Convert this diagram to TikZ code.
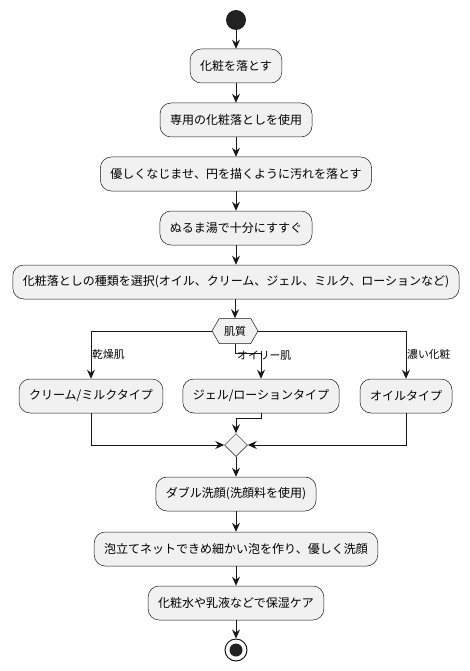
\documentclass[tikz,border=0pt]{standalone}
\usepackage{fontspec}
\setmainfont{Noto Sans CJK JP}
\usetikzlibrary{arrows.meta,shapes.geometric,shapes.symbols}

\definecolor{boxfill}{HTML}{F1F1F1}
\definecolor{boxline}{HTML}{181818}
\definecolor{dot}{HTML}{222222}

\begin{document}
\begin{tikzpicture}[x=1pt,y=-1pt,
  act/.style={draw=boxline,fill=boxfill,line width=.5pt,rounded corners=11pt,
    minimum height=34pt,inner xsep=10pt,font=\fontsize{12}{14}\selectfont},
  arr/.style={draw=boxline,line width=1pt,-{Stealth[length=9pt,width=8pt,inset=3pt]}},
  lab/.style={font=\fontsize{10.8}{12}\selectfont,inner sep=0pt}]

\useasboundingbox (0,0) rectangle (470,671);

\node [circle,fill=dot,minimum size=20pt,inner sep=0pt] (start) at (236,20) {};

\node [act] (a1) at (236,66) {化粧を落とす};
\node [act] (a2) at (236,120) {専用の化粧落としを使用};
\node [act] (a3) at (236,174) {優しくなじませ、円を描くように汚れを落とす};
\node [act] (a4) at (236,228) {ぬるま湯で十分にすすぐ};
\node [act] (a5) at (236,282) {化粧落としの種類を選択(オイル、クリーム、ジェル、ミルク、ローションなど)};

% branch on skin type
\node [signal,signal to=west and east,signal pointer angle=120,draw=boxline,fill=boxfill,
  line width=.5pt,minimum width=46pt,minimum height=25pt,inner sep=0pt,
  font=\fontsize{11}{12}\selectfont] (skin) at (235,331) {肌質};

\node [act] (dry) at (91,396) {クリーム/ミルクタイプ};
\node [act] (gel) at (261,396) {ジェル/ローションタイプ};
\node [act] (oil) at (406,396) {オイルタイプ};

\node [diamond,aspect=1,draw=boxline,fill=boxfill,line width=.5pt,
  minimum size=23pt,inner sep=0pt] (merge) at (236,445) {};

\node [act] (b1) at (236,494) {ダブル洗顔(洗顔料を使用)};
\node [act] (b2) at (236,549) {泡立てネットできめ細かい泡を作り、優しく洗顔};
\node [act] (b3) at (236,603) {化粧水や乳液などで保湿ケア};

\node [circle,draw=boxline,fill=white,line width=1pt,minimum size=22pt,inner sep=0pt,
  path picture={\fill[dot] (path picture bounding box.center) circle (6.5pt);}] (stop) at (236,650) {};

\draw[arr] (start) -- (a1);
\draw[arr] (a1) -- (a2);
\draw[arr] (a2) -- (a3);
\draw[arr] (a3) -- (a4);
\draw[arr] (a4) -- (a5);
\draw[arr] (a5.south -| skin.south) -- (skin.north);

\draw[arr] (skin.west) -| (dry.north);
\draw[arr] (skin.south) -- ++(0,10) -| (gel.north);
\draw[arr] (skin.east) -| (oil.north);

\node [lab,anchor=west] at (92,354) {乾燥肌};
\node [lab,anchor=west] at (237,356) {オイリー肌};
\node [lab,anchor=west] at (407,354) {濃い化粧};

\draw[arr] (dry.south) |- (merge.west);
\draw[arr] (gel.south) -- ++(0,5) -| (merge.north);
\draw[arr] (oil.south) |- (merge.east);

\draw[arr] (merge) -- (b1);
\draw[arr] (b1) -- (b2);
\draw[arr] (b2) -- (b3);
\draw[arr] (b3) -- (stop);

\end{tikzpicture}
\end{document}
